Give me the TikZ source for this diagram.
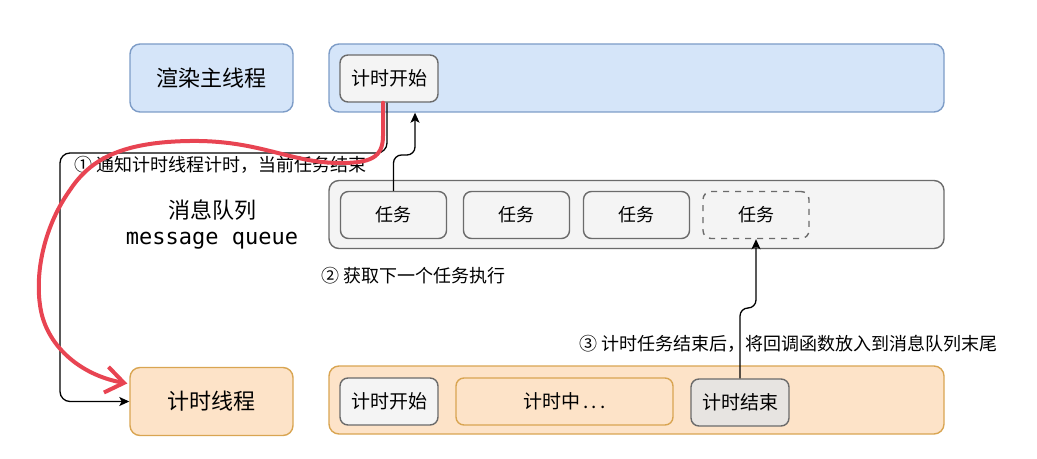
\documentclass[tikz,border=0pt]{standalone}
\usepackage{fontspec}
\setmainfont{Noto Sans CJK SC}
\setmonofont{DejaVu Sans Mono}
\usetikzlibrary{arrows.meta}

\definecolor{bluefill}{HTML}{D5E5F9}
\definecolor{blueline}{HTML}{7D9CC7}
\definecolor{orangefill}{HTML}{FDE3C8}
\definecolor{orangeline}{HTML}{D9A552}
\definecolor{grayfill}{HTML}{F4F4F4}
\definecolor{grayline}{HTML}{6B6B6B}
\definecolor{endfill}{HTML}{E7E4E1}
\definecolor{redpen}{RGB}{232,68,82}

\begin{document}
\begin{tikzpicture}[x=0.5pt,y=-0.5pt,
        thread/.style={draw,rounded corners=5pt,line width=0.7pt,
            minimum width=81.5pt,minimum height=34pt,inner sep=0pt,
            font=\fontsize{11}{13}\selectfont},
        lane/.style={draw,rounded corners=5pt,line width=0.7pt,
            minimum width=307.5pt,minimum height=34pt,inner sep=0pt},
        item/.style={draw=grayline,fill=grayfill,rounded corners=4pt,line width=0.7pt,
            minimum width=49pt,minimum height=23.5pt,inner sep=0pt,
            font=\fontsize{9.5}{11}\selectfont},
        task/.style={item,minimum width=53pt,font=\fontsize{9}{11}\selectfont},
        note/.style={inner sep=0pt,font=\fontsize{9}{10}\selectfont},
        flow/.style={line width=0.65pt,rounded corners=5pt,
            -{Stealth[length=5pt,width=4.5pt,inset=1.2pt]}},
        redarrow/.style={draw=redpen,line width=2pt,line cap=round,line join=round,
            -{Straight Barb[length=9pt,width=13pt]}}]
\useasboundingbox (0,0) rectangle (1037,459);

% main thread
\node[thread,fill=bluefill,draw=blueline] (render) at (211.5,78) {渲染主线程};
\node[lane,fill=bluefill,draw=blueline] (mainlane) at (636.5,78) {};
\node[item] (starttop) at (389,78.5) {计时开始};

% message queue
\node[align=center,inner sep=0pt,font=\fontsize{11}{13}\selectfont] (queuename) at (212,225)
    {消息队列\\\ttfamily message queue};
\node[lane,fill=grayfill,draw=grayline] (queuelane) at (636.5,214.5) {};
\node[task] (task1) at (393.5,215) {任务};
\node[task] (task2) at (516.5,215) {任务};
\node[task] (task3) at (636.5,215) {任务};
\node[task,dashed] (task4) at (756,215) {任务};

% timer thread
\node[thread,fill=orangefill,draw=orangeline] (timer) at (211.5,401.5) {计时线程};
\node[lane,fill=orangefill,draw=orangeline] (timerlane) at (636.5,400) {};
\node[item] (startbot) at (389,401.5) {计时开始};
\node[item,fill=orangefill,draw=orangeline,minimum width=108.5pt] (timing) at (564.5,401.5)
    {计时中\,.\,.\,.};
\node[item,fill=endfill] (endbot) at (740,402.5) {计时结束};

% notes
\node[note,anchor=west] (note1) at (74,165) {① 通知计时线程计时，当前任务结束};
\node[note,anchor=west] (note2) at (321,276) {② 获取下一个任务执行};
\node[note,anchor=west] (note3) at (579,344) {③ 计时任务结束后，将回调函数放入到消息队列末尾};

% connectors
\coordinate (bendA) at (60,153);
\coordinate (bendB) at (415,155);
\coordinate (bendC) at (756,308);
\draw[flow] ([xshift=-1pt]starttop.south) |- (bendA) |- (timer.west);
\draw[flow,rounded corners=4pt] (task1.north) |- (bendB) -- (bendB |- mainlane.south);
\draw[flow,rounded corners=4pt] (endbot.north) |- (bendC) -- (task4.south);

% red pen stroke
\draw[redarrow] ([xshift=-3pt]starttop.south) -- ++(0,33)
    .. controls (383,158) and (370,163) .. (340,163)
    .. controls (290,163) and (260,140) .. (190,141)
    .. controls (120,142) and (90,160) .. (70,190)
    .. controls (45,225) and (35,270) .. (40,305)
    .. controls (45,345) and (80,375) .. ([yshift=9pt,xshift=-1pt]timer.west);

\end{tikzpicture}
\end{document}
